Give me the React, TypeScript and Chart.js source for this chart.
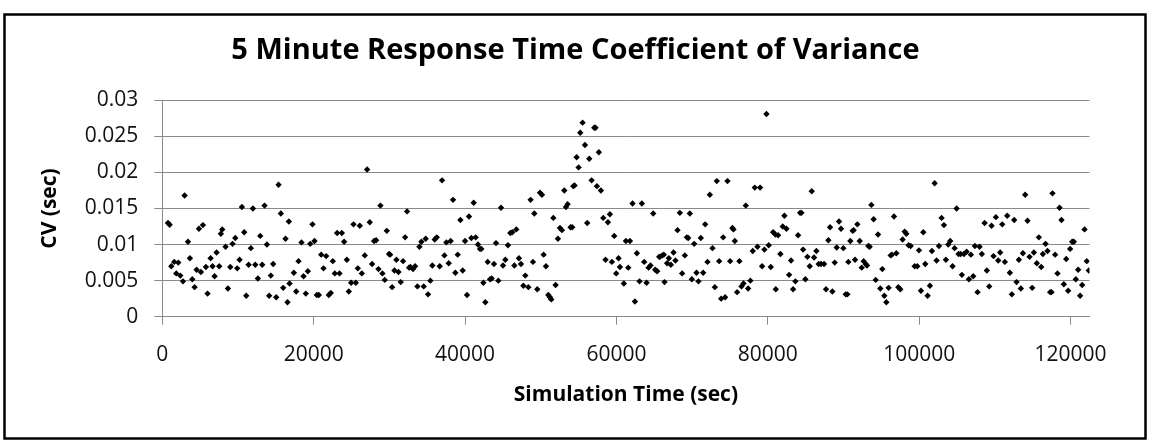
import { useEffect, useRef } from "react";
import { Chart, registerables } from "chart.js";

Chart.register(...registerables);

const chartTitle = "5 Minute Response Time Coefficient of Variance";
const xAxisTitle = "Simulation Time (sec)";
const yAxisTitle = "CV (sec)";

const xTickValues = [0, 20000, 40000, 60000, 80000, 100000, 120000];
const xTickLabels = ["0", "20000", "40000", "60000", "80000", "100000", "120000"];
const yTickValues = [0, 0.005, 0.01, 0.015, 0.02, 0.025, 0.03];
const yTickLabels = ["0", "0.005", "0.01", "0.015", "0.02", "0.025", "0.03"];

// Simulation time (sec) of each 5-minute sample
const timeSec = [
  750, 970, 1190, 1580, 1850, 2110, 2380, 2730, 2950, 3390, 3650, 3960, 4270, 4530, 4840, 5100, 5370, 5760, 5980, 6380,
  6640, 6910, 7170, 7520, 7740, 7920, 8360, 8670, 8980, 9280, 9640, 9900, 10210, 10520, 10820, 11090, 11400, 11700, 11970, 12280,
  12630, 12940, 13200, 13510, 13820, 14120, 14340, 14650, 15050, 15360, 15660, 15970, 16280, 16540, 16720, 16810,
  17380, 17690, 18000, 18390, 18660, 18960, 19230, 19540, 19840, 20110, 20420, 20680, 20990, 21300, 21650, 22000, 22260, 22530, 22790, 23100,
  23410, 23720, 24020, 24380, 24640, 24950, 25260, 25560, 25830, 26090, 26360, 26750, 27060, 27410, 27720, 27980, 28250, 28560, 28820, 29080,
  29390, 29660, 29960, 30100, 30360, 30670, 30930, 31200, 31500, 31810, 32080, 32340, 32600,
  32780, 33130, 33400, 33700, 33970, 34230, 34540, 34800, 35110, 35420, 35680, 35990, 36260, 36650, 36960, 37270, 37530, 37840, 38100, 38410,
  38720, 39030, 39380, 39690, 40000, 40260, 40520, 40830, 41140, 41400, 41710, 41980, 42150, 42420, 42680, 42990, 43300, 43520, 43820, 44090,
  44400, 44750, 45010, 45320, 45670, 45980, 46240, 46510, 46770, 47120, 47390, 47700, 47960, 48360, 48660, 48970, 49150,
  49540, 49900, 50160, 50380, 50690, 51000, 51220, 51390, 51660, 51960, 52270, 52540, 52800, 53110, 53330, 53550, 53940, 54160, 54300, 54470,
  54740, 55000, 55220, 55530, 55840, 56140, 56410, 56720, 57070, 57240, 57420, 57680, 57950, 58260, 58560, 58870, 59140, 59400, 59710, 59970,
  60280, 60460, 60980, 61250, 61560, 61780, 62130, 62440, 62700, 63050, 63360, 63670, 63980, 64240, 64500, 64860, 65120, 65380, 65650,
  65740, 66040, 66260, 66350, 66700, 66920, 67190, 67540, 67800, 68070, 68380, 68680, 69040, 69300, 69480, 69700, 69960, 70270, 70580, 70840,
  71150, 71460, 71720, 72030, 72340, 72690, 73000, 73260, 73570, 73830, 74100, 74360, 74670, 75020, 75330, 75460, 75640, 75940, 76250, 76520,
  76780, 77090, 77400, 77700, 78010, 78280, 78630, 78980, 79240, 79550, 79820, 80120, 80390, 80700, 81000, 81050, 81360, 81660, 81970, 82190,
  82460, 82810, 83070, 83340, 83640, 84000, 84260, 84440, 84660, 84960, 85230, 85540, 85800, 86110, 86420, 86720, 87030, 87430, 87690, 88000,
  88220, 88530, 88840, 89100, 89410, 89670, 89980, 90290, 90510, 90640, 90900, 91210, 91340, 91520, 91830, 92140, 92400, 92660, 92930, 93100,
  93280, 93460, 93680, 93980, 94250, 94560, 94860, 95130, 95390, 95660, 95960, 96230, 96400, 96670, 96980, 97240, 97500, 97810, 98080, 98300, 98600,
  98870, 99400, 99750, 99970, 100230, 100540, 100800, 101110, 101420, 101680, 102040, 102300, 102610, 102960, 103270, 103530, 103840, 104100, 104410, 104680,
  104940, 105200, 105470, 105640, 105910, 106260, 106570, 106830, 107140, 107360, 107710, 107980, 108280, 108640, 108940, 109250, 109560, 109820, 110130, 110440,
  110700, 110970, 111320, 111630, 111980, 112240, 112550, 112860, 113170, 113430, 113700, 114000, 114310, 114580, 114930, 115150,
  115540, 115810, 116120, 116340, 116690, 116950, 117300, 117480, 117610, 117960, 118270, 118540, 118800, 119110, 119420, 119680, 119940, 120210, 120430, 120690,
  121000, 121260, 121530, 121840, 122140, 122410,
];

// Coefficient of variance (sec) read for each sample
const cvSec = [
  0.013, 0.01275, 0.007, 0.0076, 0.006, 0.0075, 0.0057, 0.0049, 0.0168, 0.0104, 0.0081, 0.0052, 0.0041, 0.0065, 0.0122, 0.0062, 0.0127, 0.0069, 0.0032, 0.0081,
  0.007, 0.0056, 0.0089, 0.007, 0.0115, 0.0121, 0.0097, 0.0039, 0.0069, 0.0101, 0.0109, 0.0067, 0.0079, 0.0152, 0.0117, 0.0029, 0.0072, 0.0095, 0.015, 0.0072,
  0.0053, 0.0112, 0.0072, 0.0154, 0.01, 0.0029, 0.0057, 0.0073, 0.0027, 0.0183, 0.0143, 0.004, 0.0108, 0.002, 0.0132, 0.0046,
  0.0061, 0.0035, 0.0077, 0.0103, 0.0056, 0.0032, 0.0063, 0.0101, 0.0128, 0.0105, 0.003, 0.003, 0.0086, 0.0067, 0.0084, 0.003, 0.0033, 0.0077, 0.006, 0.0116,
  0.006, 0.0116, 0.0104, 0.0079, 0.0035, 0.0047, 0.0128, 0.0047, 0.0067, 0.0126, 0.006, 0.0085, 0.0204, 0.0131, 0.0073, 0.0105, 0.0106, 0.0066, 0.0154, 0.006,
  0.0051, 0.0119, 0.0087, 0.0086, 0.0041, 0.0064, 0.0079, 0.0062, 0.0048, 0.0077, 0.011, 0.0146, 0.0068,
  0.0069, 0.0066, 0.007, 0.0042, 0.0097, 0.0104, 0.0042, 0.0108, 0.0031, 0.005, 0.0071, 0.0107, 0.011, 0.007, 0.0189, 0.0085, 0.0103, 0.0074, 0.0105, 0.0162,
  0.0061, 0.0086, 0.0134, 0.0064, 0.0105, 0.003, 0.0139, 0.0109, 0.0158, 0.011, 0.01, 0.0094, 0.0094, 0.0047, 0.002, 0.0076, 0.0052, 0.0053, 0.0073, 0.0102,
  0.005, 0.0151, 0.0071, 0.0079, 0.0099, 0.0116, 0.0117, 0.0071, 0.0121, 0.0081, 0.0073, 0.0043, 0.0057, 0.0041, 0.0162, 0.0076, 0.0143,
  0.0038, 0.0172, 0.0169, 0.0086, 0.007, 0.003, 0.0027, 0.0024, 0.0137, 0.0044, 0.0108, 0.0123, 0.012, 0.0175, 0.0152, 0.0156, 0.0124, 0.0124, 0.0181, 0.0182,
  0.0221, 0.0207, 0.0255, 0.0269, 0.0238, 0.013, 0.0219, 0.0189, 0.0262, 0.0262, 0.0181, 0.0228, 0.0175, 0.0137, 0.0079, 0.0131, 0.0142, 0.0076, 0.0112, 0.006,
  0.0081, 0.0069, 0.0046, 0.0105, 0.0068, 0.0105, 0.0157, 0.0021, 0.0088, 0.0049, 0.0157, 0.0076, 0.0047, 0.0068, 0.0071, 0.0143, 0.0065, 0.0063, 0.0083,
  0.0083, 0.0085, 0.0086, 0.0048, 0.0074, 0.0081, 0.0072, 0.0089, 0.0078, 0.012, 0.0144, 0.006, 0.0085, 0.011, 0.0109, 0.0143, 0.0052, 0.0101, 0.0061, 0.0049,
  0.0109, 0.0061, 0.0128, 0.0076, 0.0169, 0.0095, 0.0041, 0.0188, 0.0077, 0.0025, 0.011, 0.0027, 0.0188, 0.0077, 0.0123, 0.0121, 0.0105, 0.0034, 0.0077, 0.0042,
  0.0046, 0.0154, 0.0039, 0.005, 0.0091, 0.0179, 0.0097, 0.0179, 0.007, 0.0093, 0.0281, 0.0099, 0.0069, 0.0117, 0.0114, 0.0038, 0.0113, 0.0087, 0.0125, 0.014,
  0.0122, 0.0058, 0.0078, 0.0038, 0.0049, 0.0113, 0.0144, 0.0144, 0.0093, 0.0052, 0.0083, 0.007, 0.0174, 0.0082, 0.0091, 0.0073, 0.0073, 0.0073, 0.0038, 0.0106,
  0.0124, 0.0035, 0.0075, 0.0096, 0.0132, 0.0122, 0.0095, 0.0031, 0.0031, 0.0076, 0.0105, 0.0119, 0.012, 0.0079, 0.0128, 0.0105, 0.0068, 0.0077, 0.0073, 0.0071,
  0.0098, 0.0097, 0.0155, 0.0135, 0.0051, 0.0114, 0.0039, 0.0066, 0.0029, 0.002, 0.004, 0.0085, 0.0086, 0.0139, 0.0088, 0.0041, 0.0038, 0.0107, 0.0118, 0.0115, 0.0099,
  0.0098, 0.007, 0.007, 0.0092, 0.0036, 0.0117, 0.0073, 0.0029, 0.0043, 0.0091, 0.0185, 0.0078, 0.0098, 0.0137, 0.0127, 0.0079, 0.01, 0.0105, 0.007, 0.0095,
  0.015, 0.0087, 0.0087, 0.0058, 0.0087, 0.009, 0.0052, 0.0086, 0.0056, 0.0098, 0.0034, 0.0097, 0.0087, 0.013, 0.0064, 0.0042, 0.0126, 0.0084, 0.0138, 0.0078,
  0.0089, 0.0128, 0.0076, 0.014, 0.0061, 0.0031, 0.0134, 0.0048, 0.0079, 0.0039, 0.0088, 0.0169, 0.0133, 0.0083, 0.004, 0.0089,
  0.0074, 0.011, 0.0069, 0.0087, 0.0101, 0.0091, 0.0034, 0.0034, 0.0171, 0.0086, 0.006, 0.0151, 0.0134, 0.0045, 0.008, 0.0036, 0.0094, 0.0104, 0.0104, 0.0052,
  0.0065, 0.0029, 0.0044, 0.0121, 0.0077, 0.0064,
];

const FONT = "'Open Sans', 'DejaVu Sans', sans-serif";
const GRID = "#8a8a8a";

export default function App() {
  const ref = useRef<HTMLCanvasElement | null>(null);

  useEffect(() => {
    document.body.style.margin = "0";
    const canvas = ref.current;
    if (!canvas) return;

    const framePlugin = {
      id: "frame",
      beforeDraw(c: any) {
        const ctx = c.ctx;
        ctx.save();
        ctx.fillStyle = "#ffffff";
        ctx.fillRect(0, 0, c.width, c.height);
        ctx.restore();
      },
      afterDraw(c: any) {
        const ctx = c.ctx;
        ctx.save();
        ctx.strokeStyle = "#000000";
        ctx.lineWidth = 2.5;
        ctx.strokeRect(4.5, 14.5, 1141, 424);
        ctx.restore();
      },
    };

    const points = timeSec.map((t, i) => ({ x: t, y: cvSec[i] }));

    const chart = new Chart(canvas, {
      type: "scatter",
      data: {
        datasets: [
          {
            label: yAxisTitle,
            data: points,
            pointStyle: "rectRot",
            pointRadius: 3.2,
            pointHoverRadius: 3.2,
            backgroundColor: "#000000",
            borderColor: "#000000",
            borderWidth: 0,
          },
        ],
      },
      options: {
        responsive: false,
        animation: false,
        events: [],
        layout: { padding: { left: 61.5, right: 61.5, top: 0, bottom: 0 } },
        plugins: {
          legend: { display: false },
          tooltip: { enabled: false },
          title: {
            display: true,
            text: chartTitle,
            color: "#000000",
            font: { family: FONT, size: 29, weight: "bold" },
            padding: { top: 33, bottom: 32.5 },
          },
        },
        scales: {
          x: {
            type: "linear",
            min: 0,
            max: 122500,
            afterBuildTicks: (s: any) => {
              s.ticks = xTickValues.map((v) => ({ value: v }));
            },
            afterFit: (s: any) => {
              s.height = 127.3;
            },
            grid: { drawOnChartArea: false, drawTicks: true, tickLength: 8, color: GRID },
            border: { color: GRID, width: 1 },
            ticks: {
              padding: 18,
              color: "#111111",
              font: { family: FONT, size: 21 },
              maxRotation: 0,
              autoSkip: false,
              callback: (_v: any, i: number) => xTickLabels[i],
            },
            title: {
              display: true,
              text: xAxisTitle,
              color: "#000000",
              font: { family: FONT, size: 21, weight: "bold" },
              padding: { top: 0, bottom: 36 },
            },
          },
          y: {
            type: "linear",
            min: 0,
            max: 0.03,
            afterBuildTicks: (s: any) => {
              s.ticks = yTickValues.map((v) => ({ value: v }));
            },
            afterFit: (s: any) => {
              s.width = 100.8;
            },
            grid: { drawTicks: true, tickLength: 8, color: GRID },
            border: { color: GRID, width: 1 },
            ticks: {
              padding: 16,
              color: "#111111",
              font: { family: FONT, size: 21 },
              autoSkip: false,
              callback: (_v: any, i: number) => yTickLabels[i],
            },
            title: {
              display: true,
              text: yAxisTitle,
              color: "#000000",
              font: { family: FONT, size: 21, weight: "bold" },
              padding: { top: -24.5, bottom: 0 },
            },
          },
        },
      },
      plugins: [framePlugin],
    } as any);

    return () => chart.destroy();
  }, []);

  return <canvas ref={ref} width={1151} height={444} style={{ display: "block" }} />;
}
